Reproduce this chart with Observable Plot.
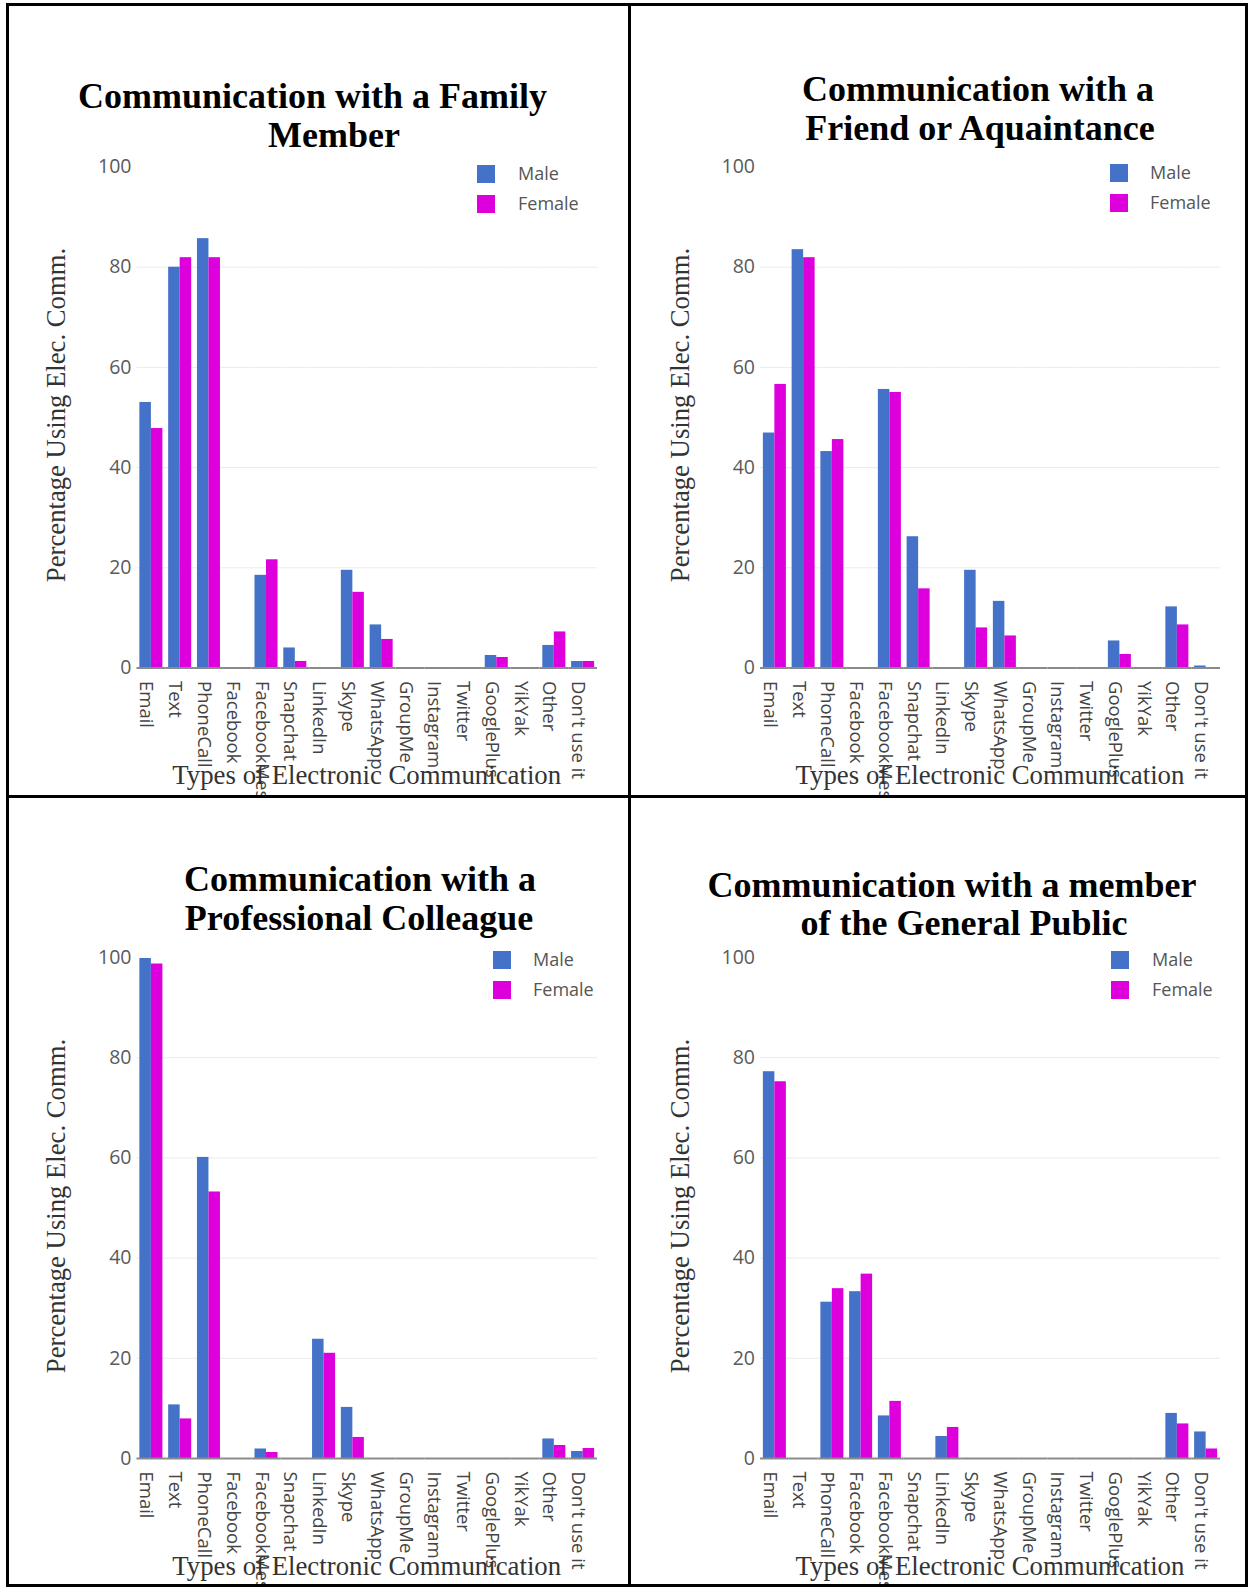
<!DOCTYPE html>
<html><head><meta charset="utf-8">
<script src="https://cdn.jsdelivr.net/npm/d3@7"></script>
<script src="https://cdn.jsdelivr.net/npm/@observablehq/plot@0.6"></script>
<style>
body{margin:0;background:#fff;}
#page{position:relative;width:1250px;height:1587px;overflow:hidden;background:#fff;}
.panel{position:absolute;overflow:hidden;}
.panel svg{position:absolute;left:0;top:0;max-width:none;}
.bline{position:absolute;background:#000;}
#overlay{position:absolute;left:0;top:0;pointer-events:none;}
</style></head><body><div id="page"></div>
<script>
// ---------- data ----------
const categories = ["Email","Text","PhoneCall","Facebook","FacebookMessenger","Snapchat","LinkedIn","Skype","WhatsApp","GroupMe","Instagram","Twitter","GooglePlus","YikYak","Other","Don't use it"];
const sexes = ["Male","Female"];
const familyMale      = [53.0,80.0,85.7,0,18.5,4.0,0,19.5,8.6,0,0,0,2.5,0,4.5,1.3];
const familyFemale    = [47.8,81.9,81.9,0,21.6,1.3,0,15.1,5.7,0,0,0,2.1,0,7.2,1.3];
const friendMale      = [46.9,83.5,43.2,0,55.6,26.2,0,19.5,13.3,0,0,0,5.4,0,12.2,0.4];
const friendFemale    = [56.6,81.9,45.6,0,55.0,15.8,0,8.0,6.4,0,0,0,2.7,0,8.6,0];
const colleagueMale   = [99.8,10.7,60.1,0,1.9,0,23.8,10.2,0,0,0,0,0,0,3.9,1.4];
const colleagueFemale = [98.7,7.9,53.2,0,1.2,0,21.0,4.2,0,0,0,0,0,0,2.6,2.0];
const publicMale      = [77.2,0,31.2,33.3,8.5,0,4.4,0,0,0,0,0,0,0,9.0,5.3];
const publicFemale    = [75.2,0,33.9,36.8,11.4,0,6.2,0,0,0,0,0,0,0,6.9,1.9];
const yTicks = [0,20,40,60,80,100];
const gridTicks = [20,40,60,80];
const titleLines = [
  ["Communication with a Family","Member"],
  ["Communication with a","Friend or Aquaintance"],
  ["Communication with a","Professional Colleague"],
  ["Communication with a member","of the General Public"]
];
const yTitle = "Percentage Using Elec. Comm.";
const xTitle = "Types of Electronic Communication";
const colors = ["#4472c8", "#dd00dd"];

// ---------- layout ----------
const panels = [
  {male: familyMale, female: familyFemale, box:[9,6,619,789], frame:[136.5,597,166.5,667.5],
   title:[[312.5,108],[334,147]], leg:[477,165,518], yt:[64.5,415]},
  {male: friendMale, female: friendFemale, box:[631,6,614,789], frame:[760,1220,166.5,667.5],
   title:[[978,101],[980,140]], leg:[1110,164,1150], yt:[688.5,415]},
  {male: colleagueMale, female: colleagueFemale, box:[9,798,619,786], frame:[136.5,597,957,1458],
   title:[[360,891],[359,930]], leg:[493,951,533], yt:[64.5,1206]},
  {male: publicMale, female: publicFemale, box:[631,798,614,786], frame:[760,1220,957,1458],
   title:[[952,897],[964,935]], leg:[1111,951,1152], yt:[688.5,1206]}
];

const page = document.getElementById("page");

panels.forEach((p, k) => {
  const [bx, by, bw, bh] = p.box;
  const [fx0, fx1, fy0, fy1] = p.frame;
  const data = categories.flatMap((c, i) => [
    {cat: c, sex: "Male", v: p.male[i]},
    {cat: c, sex: "Female", v: p.female[i]}
  ]);
  const chart = Plot.plot({
    width: bw, height: bh,
    marginLeft: fx0 - bx, marginRight: bx + bw - fx1,
    marginTop: fy0 - by, marginBottom: by + bh - fy1,
    style: {background: "transparent", overflow: "visible", fontFamily: "'Open Sans', sans-serif"},
    fx: {domain: categories, padding: 0, round: false, label: null},
    x: {domain: sexes, paddingInner: 0, paddingOuter: 0.25, round: false, axis: null},
    y: {domain: [0, 100], axis: null},
    color: {domain: sexes, range: colors},
    marks: [
      Plot.gridY(gridTicks, {stroke: "#ebebeb", strokeOpacity: 1}),
      Plot.barY(data, {fx: "cat", x: "sex", y: "v", fill: "sex"}),
      Plot.ruleY([0], {stroke: "#8a8a8a", strokeWidth: 2}),
      Plot.axisY(yTicks, {tickSize: 0, tickPadding: 5.5, fontSize: 19.5, color: "#5a5a5a", label: null}),
      Plot.axisFx({anchor: "bottom", tickSize: 0, tickRotate: 90, tickPadding: 13, fontSize: 18.5,
                   color: "#444", label: null, textAnchor: "start", lineAnchor: "middle", dx: -5})
    ]
  });
  const div = document.createElement("div");
  div.className = "panel";
  Object.assign(div.style, {left: bx + "px", top: by + "px", width: bw + "px", height: bh + "px"});
  div.appendChild(chart);
  page.appendChild(div);
});

// ---------- text overlay ----------
const ov = d3.select(page).append("svg").attr("id", "overlay")
  .attr("width", 1250).attr("height", 1587);
panels.forEach((p, k) => {
  const [fx0, fx1, fy0, fy1] = p.frame;
  const g = ov.append("g");
  titleLines[k].forEach((t, j) => {
    g.append("text").attr("x", p.title[j][0]).attr("y", p.title[j][1])
      .attr("text-anchor", "middle")
      .attr("font-family", "'Liberation Serif', 'Times New Roman', serif")
      .attr("font-weight", "bold").attr("font-size", 36).attr("fill", "#000").text(t);
  });
  // y axis title
  g.append("text").attr("transform", `translate(${p.yt[0]},${p.yt[1]}) rotate(-90)`)
    .attr("text-anchor", "middle")
    .attr("font-family", "'Liberation Serif', serif").attr("font-size", 26.7).attr("fill", "#333")
    .text(yTitle);
  // x axis title
  g.append("text").attr("x", (fx0 + fx1) / 2).attr("y", fy1 + 116.5)
    .attr("text-anchor", "middle")
    .attr("font-family", "'Liberation Serif', serif").attr("font-size", 26.8).attr("fill", "#333")
    .text(xTitle);
  // legend
  sexes.forEach((s, j) => {
    const y = p.leg[1] + j * 30;
    g.append("rect").attr("x", p.leg[0]).attr("y", y).attr("width", 18).attr("height", 18).attr("fill", colors[j]);
    g.append("text").attr("x", p.leg[2]).attr("y", y + 9).attr("dy", "0.36em")
      .attr("font-family", "'Open Sans', sans-serif").attr("font-size", 18).attr("fill", "#555").text(s);
  });
});

// ---------- borders ----------
[[6,3,1242,3],[6,1584,1242,3],[6,3,3,1584],[1245,3,3,1584],[628,3,3,1584],[6,795,1242,3]].forEach(([x,y,w,h]) => {
  const d = document.createElement("div");
  d.className = "bline";
  Object.assign(d.style, {left: x + "px", top: y + "px", width: w + "px", height: h + "px"});
  page.appendChild(d);
});
</script></body></html>
